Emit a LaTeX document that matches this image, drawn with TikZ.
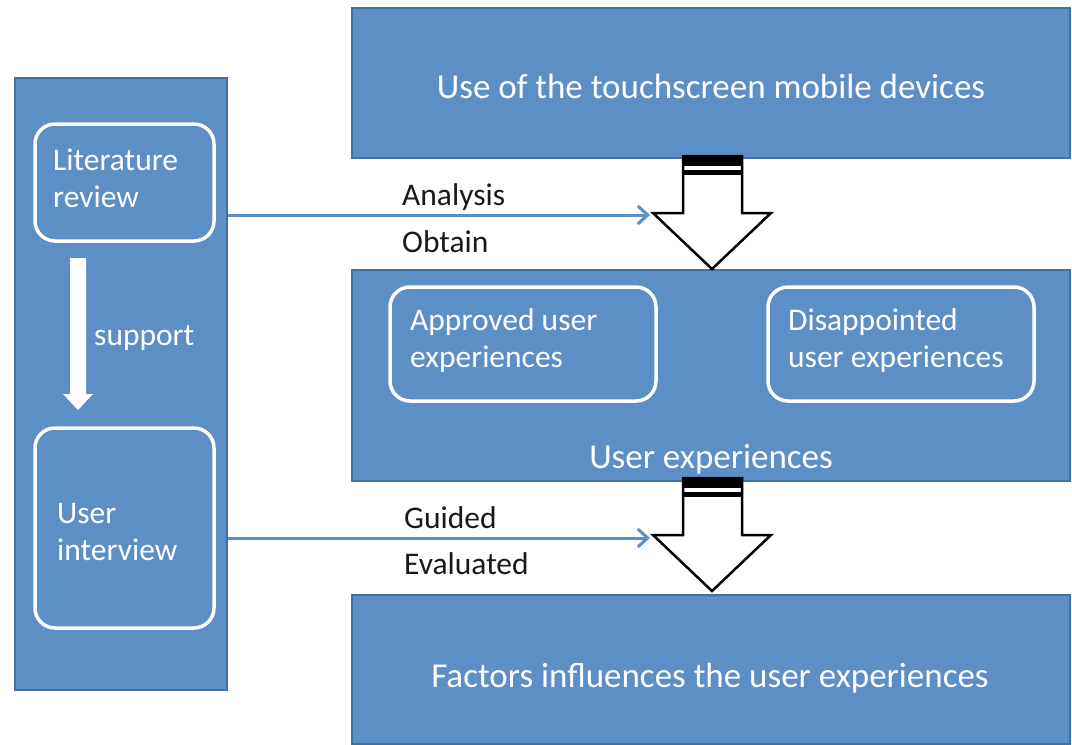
\documentclass[tikz,border=0pt]{standalone}
\usepackage{fontspec}
\setmainfont{Carlito}
\usetikzlibrary{arrows.meta}
\definecolor{boxblue}{HTML}{5B8FC6}
\definecolor{boxedge}{HTML}{44709F}
\begin{document}
\begin{tikzpicture}[x=1pt,y=-1pt,
  bigbox/.style={draw=boxedge, line width=1.5pt, fill=boxblue, rectangle, inner sep=0pt},
  roundbox/.style={draw=white, line width=3.5pt, fill=boxblue, rounded corners=20pt, rectangle, inner sep=0pt},
  bigtxt/.style={text=white, font=\fontsize{35}{42}\selectfont, inner sep=0pt, anchor=base},
  smalltxt/.style={text=white, font=\fontsize{31.5}{36.5}\selectfont, inner sep=0pt, anchor=base west, align=left},
  lbltxt/.style={text=black!90, font=\fontsize{31.5}{36.5}\selectfont, inner sep=0pt, anchor=base west},
  blueline/.style={draw=boxblue, line width=3pt, -{Straight Barb[length=10pt,width=18pt,line width=3pt]}},
  blockarrow/.style={draw=black, line width=2.5pt, fill=white, line join=miter}]
\useasboundingbox (0,0) rectangle (1072,745);
% left panel
\node[bigbox, minimum width=212pt, minimum height=612pt] (panel) at (121,384) {};
\node[roundbox, minimum width=179pt, minimum height=117pt] (lit) at (124.5,182.5) {};
\node[smalltxt] (litT) at (53,207) {Literature\\review};
\node[roundbox, minimum width=179pt, minimum height=200pt] (intv) at (124.5,528) {};
\node[smalltxt] (intvT) at (57,560) {User\\interview};
% support arrow
\fill[white] (70,258) -- (86,258) -- (86,394) -- (93,394) -- (78,410) -- (63,394) -- (70,394) -- cycle;
\node[smalltxt] (supT) at (94,345) {support};
% right boxes
\node[bigbox, minimum width=718pt, minimum height=150pt] (top) at (711,83) {};
\node[bigtxt] (topT) at (711,98) {Use of the touchscreen mobile devices};
\node[bigbox, minimum width=718pt, minimum height=211pt] (mid) at (711,375.5) {};
\node[bigtxt] (midT) at (711,468) {User experiences};
\node[roundbox, minimum width=266pt, minimum height=114pt] (appr) at (523,344) {};
\node[smalltxt] (apprT) at (410,367) {Approved user\\experiences};
\node[roundbox, minimum width=266pt, minimum height=114pt] (disp) at (901,344) {};
\node[smalltxt] (dispT) at (788,367) {Disappointed\\user experiences};
\node[bigbox, minimum width=718pt, minimum height=149pt] (bot) at (711,669.5) {};
\node[bigtxt] (botT) at (710,687) {Factors influences the user experiences};
% block arrows
\foreach \dy/\nm in {0/ba1, 322/ba2} {
  \draw[blockarrow] (683,156+\dy) -- (742,156+\dy) -- (742,213+\dy) -- (771,213+\dy) -- (712,269+\dy) -- (653,213+\dy) -- (683,213+\dy) -- cycle;
  \fill[black] (683,155+\dy) rectangle (742,166+\dy);
  \fill[black] (683,170+\dy) rectangle (742,175+\dy);
}
% connectors
\coordinate (a1end) at (650,215);
\coordinate (a2end) at (650,538);
\draw[blueline] (panel.east |- a1end) -- (a1end);
\draw[blueline] (panel.east |- a2end) -- (a2end);
\node[lbltxt] (l1) at (402,205) {Analysis};
\node[lbltxt] (l2) at (402,252) {Obtain};
\node[lbltxt] (l3) at (404,528) {Guided};
\node[lbltxt] (l4) at (404,574) {Evaluated};
\end{tikzpicture}
\end{document}
